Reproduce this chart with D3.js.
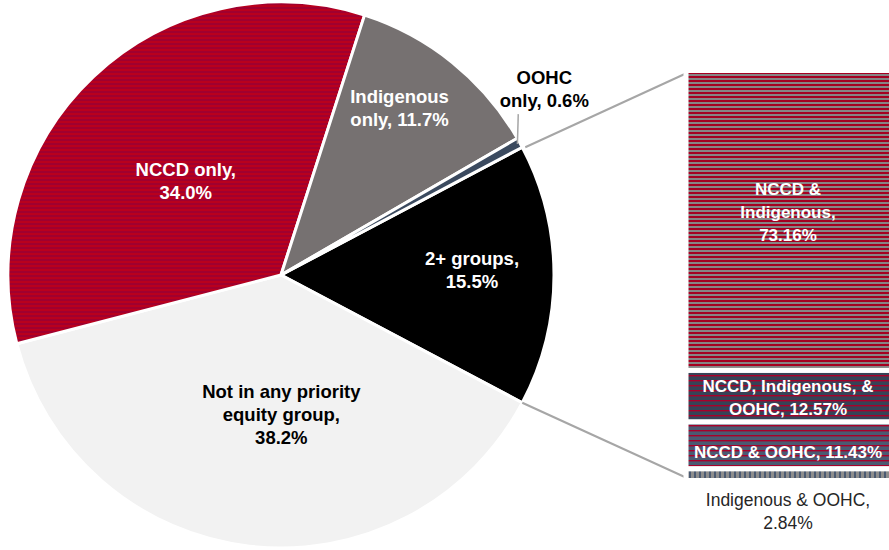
<!DOCTYPE html>
<html>
<head>
<meta charset="utf-8">
<script src="https://cdn.jsdelivr.net/npm/d3@7"></script>
<style>
  html, body { margin: 0; padding: 0; background: #fff; }
  svg { display: block; font-family: "Liberation Sans", Arial, sans-serif; }
</style>
</head>
<body>
<svg id="chart" width="889" height="550"></svg>
<script>
// Pie: share of students by priority equity group
const pieCategories = ["2+ groups", "Not in any priority equity group", "NCCD only", "Indigenous only", "OOHC only"];
const pieValues = [15.5, 38.2, 34.0, 11.7, 0.6];
const pieLabels = [["2+ groups,", "15.5%"], ["Not in any priority", "equity group,", "38.2%"], ["NCCD only,", "34.0%"], ["Indigenous", "only, 11.7%"], ["OOHC", "only, 0.6%"]];

// Breakdown bar: composition of the "2+ groups" slice
const barCategories = ["NCCD & Indigenous", "NCCD, Indigenous, & OOHC", "NCCD & OOHC", "Indigenous & OOHC"];
const barValues = [73.16, 12.57, 11.43, 2.84];
const barLabels = [["NCCD &", "Indigenous,", "73.16%"], ["NCCD, Indigenous, &", "OOHC, 12.57%"], ["NCCD & OOHC, 11.43%"], ["Indigenous & OOHC,", "2.84%"]];

const svg = d3.select("#chart");
const defs = svg.append("defs");

// striped fills
function stripes(id, h, bg, lines) {
  const p = defs.append("pattern").attr("id", id).attr("patternUnits", "userSpaceOnUse")
    .attr("width", 8).attr("height", h);
  p.append("rect").attr("width", 8).attr("height", h).attr("fill", bg);
  lines.forEach(([y, t, c]) => p.append("rect").attr("y", y).attr("width", 8).attr("height", t).attr("fill", c));
}
stripes("pNccd", 4, "#a0002f", [[2, 2, "#b9001d"]]);
stripes("pNccdInd", 4, "#a50021", [[2, 2, "#858585"]]);
stripes("pAll3", 5, "#364357", [[0, 1.4, "#a8002a"]]);
stripes("pNccdOohc", 5, "#4b5a72", [[0, 1.4, "#a8002a"]]);
{
  const p = defs.append("pattern").attr("id", "pIndOohc").attr("patternUnits", "userSpaceOnUse")
    .attr("width", 5).attr("height", 5);
  p.append("rect").attr("width", 5).attr("height", 5).attr("fill", "#4b5a72");
  p.append("rect").attr("x", 1).attr("y", 0).attr("width", 3).attr("height", 5).attr("fill", "#8d8d8d");
}

const pieFills = ["#000000", "#f2f2f2", "url(#pNccd)", "#767171", "#3b4a5f"];
const pieTextColors = ["#ffffff", "#000000", "#ffffff", "#ffffff", "#000000"];

// pie geometry
const cx = 281, cy = 275, R = 273;
const start = Math.PI / 2 - (pieValues[0] / 100) * Math.PI;
const pie = d3.pie().sort(null).value(d => d).startAngle(start).endAngle(start + 2 * Math.PI);
const arcs = pie(pieValues);
const arc = d3.arc().innerRadius(0).outerRadius(R);

const g = svg.append("g").attr("transform", `translate(${cx},${cy})`);
g.selectAll("path").data(arcs).join("path")
  .attr("d", arc)
  .attr("fill", (d, i) => pieFills[i])
  .attr("stroke", "#fff").attr("stroke-width", 3).attr("stroke-linejoin", "round");

// label placement: radius as fraction of R, angular shift in degrees
const labelPlace = [[0.70, -1.5], [0.51, -6.8], [0.49, -2], [0.75, -3.5], [1.18, -6.2]];
const lineH = 23;
arcs.forEach((d, i) => {
  const mid = (d.startAngle + d.endAngle) / 2 + labelPlace[i][1] * Math.PI / 180;
  const r = labelPlace[i][0] * R;
  const x = Math.sin(mid) * r, y = -Math.cos(mid) * r;
  const lines = pieLabels[i];
  const t = g.append("text").attr("text-anchor", "middle").attr("font-weight", "bold")
    .attr("font-size", 18.5).attr("fill", pieTextColors[i]);
  lines.forEach((s, k) => t.append("tspan").attr("x", x)
    .attr("y", y + (k - (lines.length - 1) / 2) * lineH + 6.5).text(s));
});

// leader for the small OOHC slice
{
  const d = arcs[4];
  const mid = (d.startAngle + d.endAngle) / 2;
  const p1 = [Math.sin(mid) * (R * 0.99), -Math.cos(mid) * (R * 0.99)];
  const p2 = [Math.sin(mid - 0.09) * (R * 1.05), -Math.cos(mid - 0.09) * (R * 1.05)];
  g.append("path").attr("d", `M${p1[0]},${p1[1]}L${p2[0]},${p2[1]}`)
    .attr("stroke", "#a6a6a6").attr("stroke-width", 1.5).attr("fill", "none");
}

// breakdown bar
const barX = 686, barW = 206;
const y = d3.scaleLinear().domain([0, 100]).range([70.5, 480.5]);
let acc = 0;
const segs = barValues.map(v => { const s = { y0: acc, y1: acc + v }; acc += v; return s; });
const barFills = ["url(#pNccdInd)", "url(#pAll3)", "url(#pNccdOohc)", "url(#pIndOohc)"];

// connector lines from the 2+ slice edges to the bar
const a0 = arcs[0];
const e1 = [cx + Math.sin(a0.startAngle) * R, cy - Math.cos(a0.startAngle) * R];
const e2 = [cx + Math.sin(a0.endAngle) * R, cy - Math.cos(a0.endAngle) * R];
svg.append("line").attr("x1", e1[0] + 3).attr("y1", e1[1]).attr("x2", barX + 2).attr("y2", y(0) + 2)
  .attr("stroke", "#a6a6a6").attr("stroke-width", 2);
svg.append("line").attr("x1", e2[0]).attr("y1", e2[1]).attr("x2", barX + 2).attr("y2", y(100) - 2)
  .attr("stroke", "#a6a6a6").attr("stroke-width", 2);

svg.selectAll("rect.seg").data(segs).join("rect").attr("class", "seg")
  .attr("x", barX).attr("width", barW)
  .attr("y", d => y(d.y0)).attr("height", d => y(d.y1) - y(d.y0))
  .attr("fill", (d, i) => barFills[i])
  .attr("stroke", "#fff").attr("stroke-width", 5);

const barLabelY = [[189, 212, 235], [386, 409], [452], [500, 523]];
segs.forEach((d, i) => {
  const inside = i < 3;
  const t = svg.append("text").attr("text-anchor", "middle")
    .attr("font-weight", inside ? "bold" : "normal")
    .attr("font-size", inside ? 17 : 17.5)
    .attr("fill", inside ? "#ffffff" : "#262626");
  barLabels[i].forEach((s, k) => t.append("tspan").attr("x", barX + 2 + 198 / 2 + 1)
    .attr("y", barLabelY[i][k] + 6).text(s));
});
</script>
</body>
</html>
